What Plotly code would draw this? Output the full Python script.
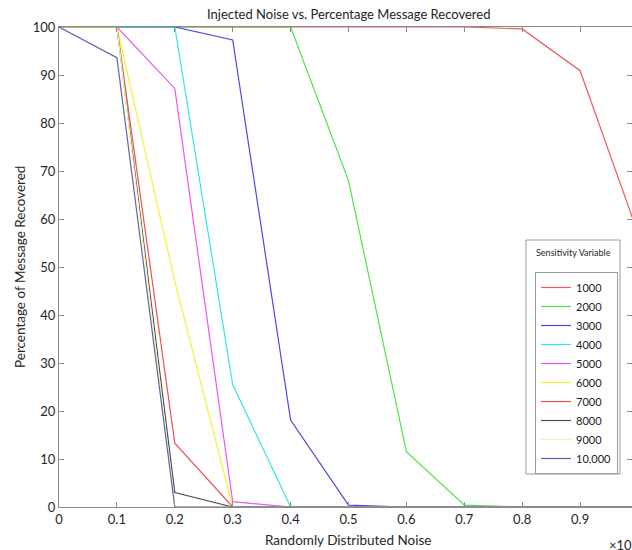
import plotly.graph_objects as go

# ---- data ----
noise = [0.0, 0.1, 0.2, 0.3, 0.4, 0.5, 0.6, 0.7, 0.8, 0.9, 1.0]
s1000 = [100, 100, 100, 100, 100, 100, 100, 100, 99.6, 90.9, 57]
s2000 = [100, 100, 100, 100, 100, 68, 11.5, 0.4, 0, 0, 0]
s3000 = [100, 100, 100, 97.3, 18.1, 0.4, 0, 0, 0, 0, 0]
s4000 = [100, 100, 100, 25.5, 0, 0, 0, 0, 0, 0, 0]
s5000 = [100, 100, 87.2, 1.1, 0, 0, 0, 0, 0, 0, 0]
s6000 = [100, 100, 47, 0, 0, 0, 0, 0, 0, 0, 0]
s7000 = [100, 100, 13.3, 0, 0, 0, 0, 0, 0, 0, 0]
s8000 = [100, 100, 3.0, 0, 0, 0, 0, 0, 0, 0, 0]
s9000 = [100, 100, 0, 0, 0, 0, 0, 0, 0, 0, 0]
s10000 = [100, 93.6, 0, 0, 0, 0, 0, 0, 0, 0, 0]

series_names = ["1000", "2000", "3000", "4000", "5000", "6000", "7000", "8000", "9000", "10,000"]
series_values = [s1000, s2000, s3000, s4000, s5000, s6000, s7000, s8000, s9000, s10000]
colors = ["#f0585c", "#4de24d", "#4a4ae6", "#33e6e6", "#ee55ee", "#f2f23a",
          "#f05050", "#505050", "#f6f6a0", "#6262b4"]

x_tick_vals = [0, 0.1, 0.2, 0.3, 0.4, 0.5, 0.6, 0.7, 0.8, 0.9]
x_tick_text = ["0", "0.1", "0.2", "0.3", "0.4", "0.5", "0.6", "0.7", "0.8", "0.9"]
y_tick_vals = [0, 10, 20, 30, 40, 50, 60, 70, 80, 90, 100]

FONT = "Lato"
TXT = "#262626"
AX = "#8a8a8a"

fig = go.Figure()
for name, vals, col in zip(series_names, series_values, colors):
    fig.add_trace(go.Scatter(x=noise, y=vals, mode="lines", name=name,
                             line=dict(color=col, width=1.2)))

W, H = 632, 550
# plot area in window pixels: 59..632 horizontally, 27..507 vertically
L, R, T, B = 59, 632, 27, 507
pw, ph = R - L, B - T


def px(xp):
    return (xp - L) / pw


def py(yp):
    return (B - yp) / ph


fig.update_layout(
    width=W, height=H,
    margin=dict(l=L, r=W - R, t=T, b=H - B, autoexpand=False),
    paper_bgcolor="white", plot_bgcolor="white",
    font=dict(family=FONT, color=TXT, size=13),
    showlegend=True,
    legend=dict(
        x=px(535), y=py(272), xanchor="left", yanchor="top",
        bordercolor="#9a9a9a", borderwidth=1, bgcolor="white",
        font=dict(family=FONT, size=11, color="#1a1a1a"),
        itemwidth=30, tracegroupgap=0,
    ),
    xaxis=dict(
        range=[0, pw / 579.0], tickvals=x_tick_vals, ticktext=x_tick_text,
        ticks="inside", ticklen=5, tickcolor=AX, showline=True, linecolor=AX,
        linewidth=1, mirror="ticks", showgrid=False, zeroline=False, automargin=False,
        tickfont=dict(family=FONT, size=13, color=TXT),
    ),
    yaxis=dict(
        range=[0, 100], tickvals=y_tick_vals,
        ticks="inside", ticklen=5, tickcolor=AX, showline=True, linecolor=AX,
        linewidth=1, mirror="ticks", showgrid=False, zeroline=False, automargin=False,
        tickfont=dict(family=FONT, size=13, color=TXT),
    ),
    annotations=[
        dict(text="Injected Noise vs. Percentage Message Recovered", xref="paper", yref="paper",
             x=px(348), y=py(14), xanchor="center", yanchor="middle", showarrow=False,
             font=dict(family=FONT, size=13, color=TXT)),
        dict(text="Randomly Distributed Noise", xref="paper", yref="paper",
             x=px(348), y=py(540), xanchor="center", yanchor="middle", showarrow=False,
             font=dict(family=FONT, size=13.5, color=TXT)),
        dict(text="Percentage of Message Recovered", xref="paper", yref="paper",
             x=px(20), y=py(267), xanchor="center", yanchor="middle", showarrow=False,
             textangle=-90, font=dict(family=FONT, size=13.5, color=TXT)),
        dict(text="×10<sup>7</sup>", xref="paper", yref="paper",
             x=px(607), y=py(544), xanchor="left", yanchor="middle", showarrow=False,
             font=dict(family=FONT, size=13, color=TXT)),
        dict(text="Sensitivity Variable", xref="paper", yref="paper",
             x=px(573), y=py(252), xanchor="center", yanchor="middle", showarrow=False,
             font=dict(family=FONT, size=9, color=TXT)),
    ],
    shapes=[
        dict(type="rect", xref="paper", yref="paper",
             x0=px(526), x1=px(620), y0=py(240), y1=py(474),
             line=dict(color="#9a9a9a", width=1), fillcolor="rgba(0,0,0,0)", layer="below"),
    ],
)

fig.write_html(
    "out.html",
    config={"displayModeBar": False},
    post_script="document.body.style.margin='0';document.body.style.overflow='hidden';",
)
